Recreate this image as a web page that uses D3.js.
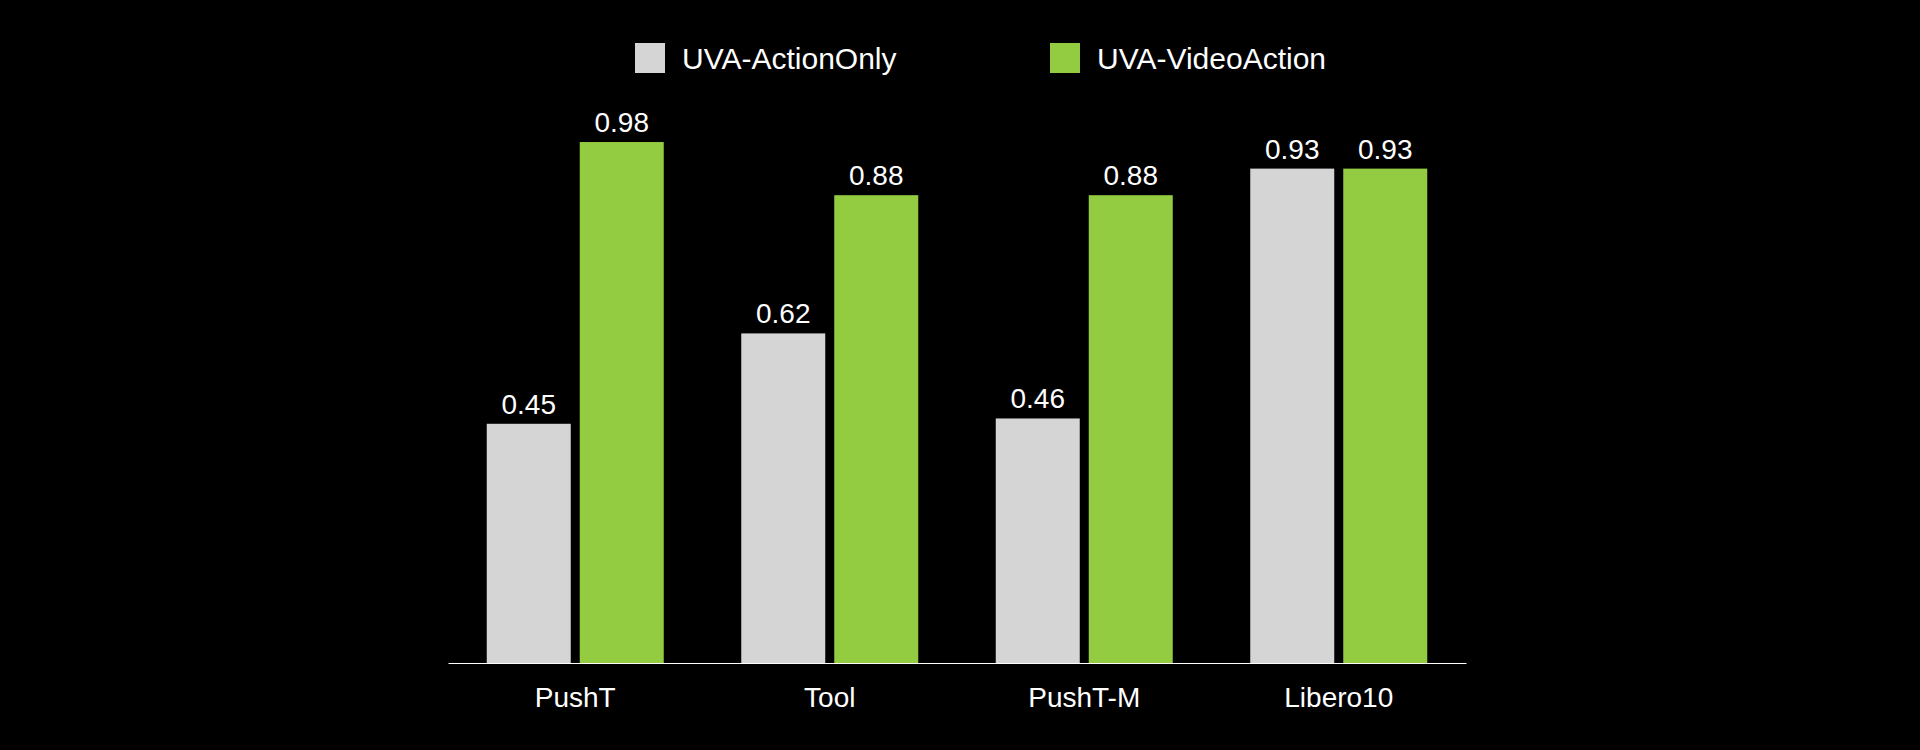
<!DOCTYPE html>
<html>
<head>
<meta charset="utf-8">
<script src="https://cdn.jsdelivr.net/npm/d3@7"></script>
<style>
  html, body { margin: 0; padding: 0; background: #000; }
  svg { display: block; }
  text { font-family: "Liberation Sans", Arial, Helvetica, sans-serif; fill: #fff; }
</style>
</head>
<body>
<svg id="chart" width="1920" height="750"></svg>
<script>
const categories = ["PushT", "Tool", "PushT-M", "Libero10"];
const seriesNames = ["UVA-ActionOnly", "UVA-VideoAction"];
const actionOnly = [0.45, 0.62, 0.46, 0.93];
const videoAction = [0.98, 0.88, 0.88, 0.93];
const seriesColors = ["#d5d5d5", "#94cc41"];

const svg = d3.select("#chart");
const W = 1920, H = 750;
svg.append("rect").attr("width", W).attr("height", H).attr("fill", "#000");

const x0 = d3.scaleBand().domain(categories).range([448, 1466]).paddingInner(0).paddingOuter(0);
const y = d3.scaleLinear().domain([0, 1]).range([663, 131.4]);

const barW = 84, gap = 9;
const x1 = d3.scaleOrdinal().domain(seriesNames).range([-gap / 2 - barW, gap / 2]);

const series = [actionOnly, videoAction];
const data = [];
categories.forEach((c, i) => {
  seriesNames.forEach((s, j) => {
    data.push({ cat: c, series: s, value: series[j][i], color: seriesColors[j] });
  });
});

const g = svg.append("g");
g.selectAll("rect.bar").data(data).enter().append("rect")
  .attr("class", "bar")
  .attr("x", d => x0(d.cat) + x0.bandwidth() / 2 + x1(d.series))
  .attr("y", d => y(d.value))
  .attr("width", barW)
  .attr("height", d => y(0) - y(d.value))
  .attr("fill", d => d.color);

g.selectAll("text.val").data(data).enter().append("text")
  .attr("class", "val")
  .attr("x", d => x0(d.cat) + x0.bandwidth() / 2 + x1(d.series) + barW / 2)
  .attr("y", d => y(d.value) - 10)
  .attr("text-anchor", "middle")
  .attr("font-size", 28)
  .text(d => d.value.toFixed(2));

// x axis
const xAxis = d3.axisBottom(x0).tickSize(0).tickPadding(24);
const ax = svg.append("g").attr("transform", `translate(0,${y(0)})`).call(xAxis);
ax.select(".domain").attr("stroke", "#fff").attr("stroke-width", 1.2);
ax.selectAll(".tick text").attr("font-size", 28).attr("fill", "#fff")
  .attr("font-family", '"Liberation Sans", Arial, sans-serif')
  .attr("dy", "0.71em");

// legend
const legendX = [635, 1050];
const leg = svg.append("g");
seriesNames.forEach((s, j) => {
  leg.append("rect").attr("x", legendX[j]).attr("y", 43).attr("width", 30).attr("height", 30).attr("fill", seriesColors[j]);
  leg.append("text").attr("x", legendX[j] + 47).attr("y", 69).attr("font-size", 30).text(s);
});
</script>
</body>
</html>
